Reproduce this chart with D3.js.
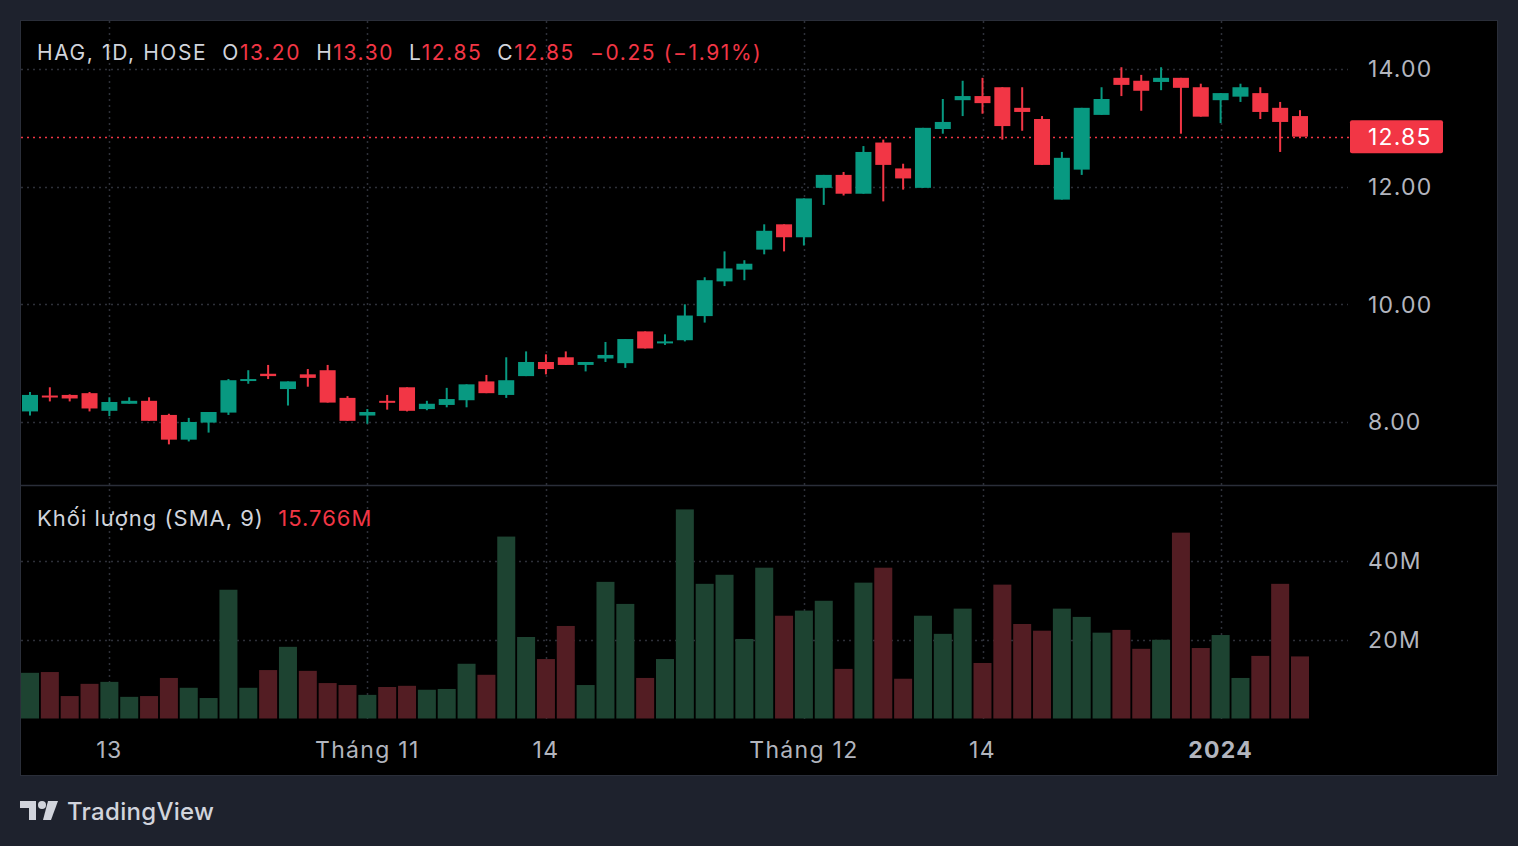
<!DOCTYPE html>
<html>
<head>
<meta charset="utf-8">
<script src="https://cdn.jsdelivr.net/npm/d3@7"></script>
<style>
  html, body { margin: 0; padding: 0; background: #1e222d; }
  svg { display: block; }
  text { font-family: Inter, "Noto Sans", sans-serif; white-space: pre; }
</style>
</head>
<body>
<script>
// chart size
var w = 1518, h = 846;

// daily candles, 9 Oct 2023 .. 8 Jan 2024 (HAG, HOSE)
var opens  = [8.18,8.45,8.46,8.49,8.19,8.31,8.36,8.12,7.70,7.99,
              8.16,8.70,8.82,8.56,8.81,8.88,8.41,8.11,8.36,8.59,
              8.22,8.29,8.37,8.69,8.46,8.78,9.02,9.10,8.97,9.08,
              9.00,9.54,9.34,9.39,9.80,10.39,10.59,10.93,11.36,11.14,
              11.98,12.20,11.88,12.75,12.31,11.98,12.98,13.47,13.54,13.69,
              13.34,13.15,11.78,12.29,13.22,13.85,13.80,13.78,13.85,13.69,
              13.47,13.53,13.59,13.34,13.20];
var highs  = [8.51,8.59,8.47,8.51,8.42,8.42,8.42,8.14,8.07,8.17,
              8.73,8.88,8.97,8.69,8.90,8.97,8.44,8.22,8.46,8.59,
              8.36,8.58,8.64,8.80,9.10,9.20,9.15,9.20,9.02,9.36,
              9.41,9.54,9.49,10.00,10.46,10.90,10.75,11.36,11.36,11.80,
              12.20,12.25,12.69,12.80,12.39,13.00,13.49,13.80,13.85,13.69,
              13.69,13.20,12.59,13.34,13.69,14.03,13.90,14.03,13.85,13.75,
              13.59,13.75,13.69,13.44,13.30];
var lows   = [8.11,8.35,8.35,8.18,8.10,8.31,8.02,7.62,7.67,7.82,
              8.12,8.65,8.73,8.28,8.60,8.33,8.02,7.97,8.21,8.18,
              8.20,8.25,8.25,8.49,8.41,8.78,8.81,8.97,8.86,9.02,
              8.92,9.25,9.31,9.37,9.69,10.31,10.41,10.85,10.90,11.00,
              11.69,11.85,11.88,11.75,11.95,11.98,12.90,13.20,13.24,12.80,
              12.95,12.37,11.78,12.20,13.22,13.54,13.29,13.64,12.90,13.19,
              13.08,13.44,13.15,12.59,12.85];
var closes = [8.46,8.43,8.40,8.23,8.34,8.36,8.02,7.70,8.00,8.17,
              8.71,8.73,8.78,8.69,8.75,8.33,8.02,8.17,8.33,8.19,
              8.31,8.39,8.64,8.49,8.71,9.02,8.90,8.97,9.02,9.14,
              9.41,9.25,9.37,9.81,10.41,10.61,10.69,11.25,11.14,11.80,
              12.20,11.88,12.59,12.37,12.14,13.00,13.10,13.54,13.42,13.03,
              13.27,12.37,12.49,13.34,13.49,13.73,13.63,13.85,13.68,13.19,
              13.59,13.69,13.27,13.10,12.85];
// volume in millions of shares
var volumes = [11.6,11.8,5.7,8.8,9.3,5.5,5.7,10.3,7.8,5.2,
               32.7,7.8,12.3,18.2,12.1,9.0,8.5,6.0,8.0,8.3,
               7.3,7.5,13.9,11.1,46.2,20.7,15.1,23.5,8.5,34.7,
               29.1,10.3,15.1,53.1,34.2,36.5,20.2,38.3,26.1,27.4,
               29.9,12.6,34.5,38.3,10.1,26.1,21.5,27.9,14.1,34.0,
               24.0,22.3,27.9,25.8,21.8,22.5,17.7,20.0,47.2,17.9,
               21.2,10.3,15.9,34.2,15.766];

// time axis: bar index of each label
var timeTickIdx = [4, 17, 26, 39, 48, 60];
var timeTickLabels = ["13", "Tháng 11", "14", "Tháng 12", "14", "2024"];
var priceTicks = [8, 10, 12, 14];
var volTicks = [20, 40];

var up = "#089981", down = "#f23645";
var upVol = "#1d4331", downVol = "#531d23";
var grid = "#2e3039", txt = "#d1d4dc", axisTxt = "#b2b5be";

window.onload = function(){
    var svg = d3.select("body").append("svg")
        .attr("width", w)
        .attr("height", h);

    // panel
    svg.append("rect").attr("class", "panel")
        .attr("x", 20.5).attr("y", 20.5)
        .attr("width", 1477).attr("height", 755)
        .style("fill", "#000").style("stroke", "#2a2e39");

    var x = d3.scaleLinear().domain([0, 64]).range([30, 1300]);
    var y = d3.scaleLinear().domain([8, 14]).range([422, 69]);
    var yv = d3.scaleLinear().domain([0, 40]).range([718.5, 561]);

    var n = closes.length;
    var idx = d3.range(n);

    // gridlines
    svg.append("g").selectAll("line")
        .data(priceTicks).join("line")
        .attr("x1", 21).attr("x2", 1348)
        .attr("y1", function(d){ return Math.round(y(d)) + 0.5; })
        .attr("y2", function(d){ return Math.round(y(d)) + 0.5; })
        .style("stroke", grid).style("stroke-width", 1.5)
        .style("stroke-dasharray", "2,4");
    svg.append("g").selectAll("line")
        .data(volTicks).join("line")
        .attr("x1", 21).attr("x2", 1348)
        .attr("y1", function(d){ return Math.round(yv(d)) + 0.5; })
        .attr("y2", function(d){ return Math.round(yv(d)) + 0.5; })
        .style("stroke", grid).style("stroke-width", 1.5)
        .style("stroke-dasharray", "2,4");
    svg.append("g").selectAll("line")
        .data(timeTickIdx).join("line")
        .attr("x1", function(d){ return Math.round(x(d)) + 0.5; })
        .attr("x2", function(d){ return Math.round(x(d)) + 0.5; })
        .attr("y1", 21).attr("y2", 719)
        .style("stroke", grid).style("stroke-width", 1.5)
        .style("stroke-dasharray", "2,4");

    // pane separator
    svg.append("line")
        .attr("x1", 21).attr("x2", 1497).attr("y1", 485.5).attr("y2", 485.5)
        .style("stroke", "#2a2e39").style("stroke-width", 1.5);

    // volume bars
    svg.append("g").selectAll("rect")
        .data(idx).join("rect")
        .attr("x", function(i){ return x(i) - 9; })
        .attr("width", 18)
        .attr("y", function(i){ return yv(volumes[i]); })
        .attr("height", function(i){ return yv(0) - yv(volumes[i]); })
        .style("fill", function(i){ return closes[i] >= opens[i] ? upVol : downVol; });

    // last price line
    var last = closes[n - 1];
    svg.append("line")
        .attr("x1", 21).attr("x2", 1350)
        .attr("y1", Math.round(y(last)) + 0.5).attr("y2", Math.round(y(last)) + 0.5)
        .style("stroke", down).style("stroke-width", 1.5)
        .style("stroke-dasharray", "2,4");

    // candles
    var candles = svg.append("g").selectAll("g")
        .data(idx).join("g");
    candles.append("rect") // wick
        .attr("x", function(i){ return x(i) - 1; })
        .attr("width", 2)
        .attr("y", function(i){ return y(highs[i]); })
        .attr("height", function(i){ return Math.max(1, y(lows[i]) - y(highs[i])); })
        .style("fill", function(i){ return closes[i] >= opens[i] ? up : down; });
    candles.append("rect") // body
        .attr("x", function(i){ return x(i) - 8; })
        .attr("width", 16)
        .attr("y", function(i){ return y(Math.max(opens[i], closes[i])); })
        .attr("height", function(i){ return Math.max(2, Math.abs(y(opens[i]) - y(closes[i]))); })
        .style("fill", function(i){ return closes[i] >= opens[i] ? up : down; });

    // price axis labels
    svg.append("g").selectAll("text")
        .data(priceTicks).join("text")
        .attr("x", 1368).attr("y", function(d){ return y(d); })
        .attr("dy", "0.36em")
        .style("font-size", "23px").style("letter-spacing", "1.2px").style("fill", axisTxt)
        .text(function(d){ return d.toFixed(2); });
    svg.append("g").selectAll("text")
        .data(volTicks).join("text")
        .attr("x", 1368).attr("y", function(d){ return yv(d); })
        .attr("dy", "0.36em")
        .style("font-size", "23px").style("letter-spacing", "1.2px").style("fill", axisTxt)
        .text(function(d){ return d + "M"; });

    // last price badge
    svg.append("rect")
        .attr("x", 1350).attr("y", y(last) - 16.5)
        .attr("width", 93).attr("height", 33).attr("rx", 2)
        .style("fill", down);
    svg.append("text")
        .attr("x", 1368).attr("y", y(last)).attr("dy", "0.36em")
        .style("font-size", "23px").style("letter-spacing", "1.2px").style("fill", "#fff")
        .text(last.toFixed(2));

    // time axis labels
    svg.append("g").selectAll("text")
        .data(timeTickIdx).join("text")
        .attr("x", function(d){ return x(d); })
        .attr("y", 750).attr("dy", "0.36em")
        .attr("text-anchor", "middle")
        .style("font-size", "23px").style("letter-spacing", "1.3px")
        .style("font-weight", function(d, k){ return timeTickLabels[k] === "2024" ? 700 : 400; })
        .style("fill", axisTxt)
        .text(function(d, k){ return timeTickLabels[k]; });

    // legend line
    var chg = last - closes[n - 2];
    var legend = svg.append("text").attr("x", 37).attr("y", 52).attr("dy", "0.36em")
        .style("font-size", "21px").style("letter-spacing", "1.6px").style("fill", txt);
    legend.append("tspan").text("HAG, 1D, HOSE  O");
    legend.append("tspan").style("fill", down).text(opens[n - 1].toFixed(2));
    legend.append("tspan").text("  H");
    legend.append("tspan").style("fill", down).text(highs[n - 1].toFixed(2));
    legend.append("tspan").text("  L");
    legend.append("tspan").style("fill", down).text(lows[n - 1].toFixed(2));
    legend.append("tspan").text("  C");
    legend.append("tspan").style("fill", down).text(last.toFixed(2));
    legend.append("tspan").style("fill", down)
        .text("  \u2212" + Math.abs(chg).toFixed(2) + " (\u2212" + Math.abs(chg / closes[n - 2] * 100).toFixed(2) + "%)");

    var volLegend = svg.append("text").attr("x", 37).attr("y", 518).attr("dy", "0.36em")
        .style("font-size", "22px").style("letter-spacing", "1px").style("fill", txt);
    volLegend.append("tspan").text("Khối lượng (SMA, 9)  ");
    volLegend.append("tspan").style("fill", down).text(volumes[n - 1].toFixed(3) + "M");

    // TradingView mark
    var logo = svg.append("g").style("fill", txt);
    logo.append("path").attr("d", "M20,801 H36 V820 H29 V808 H20 Z");
    logo.append("circle").attr("cx", 42).attr("cy", 805).attr("r", 4);
    logo.append("path").attr("d", "M48,801 H58 L51,820 H43 Z");
    svg.append("text").attr("x", 67).attr("y", 811).attr("dy", "0.36em")
        .style("font-size", "24px").style("font-weight", 500).style("letter-spacing", "0.3px").style("fill", txt)
        .text("TradingView");
};
</script>
</body>
</html>
